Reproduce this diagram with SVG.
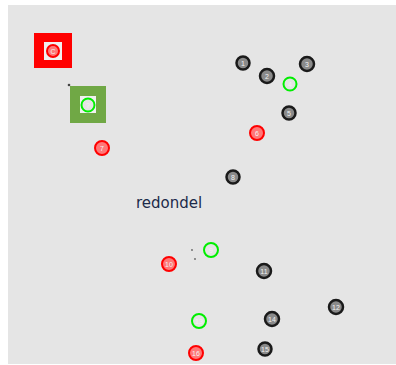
<svg xmlns="http://www.w3.org/2000/svg" width="396" height="365" viewBox="0 0 396 365">
<style>
.k{fill:#8a8a8a;stroke:#1a1a1a;stroke-width:2.5}
.r{fill:#f77;stroke:#ff0000;stroke-width:2}
.g{fill:#e4e4e4;stroke:#00ee00;stroke-width:2}
.n{font-family:"Liberation Sans",Arial,sans-serif;font-size:7px;fill:#f2f2f2;text-anchor:middle}
.lbl{font-family:"DejaVu Sans",Verdana,sans-serif;font-size:15px;fill:#1c2a4a}
</style>
<rect x="0" y="0" width="396" height="365" fill="#ffffff"/>
<rect x="8" y="5" width="388" height="359" fill="#e5e5e5"/>
<g id="node-c">
<rect x="34" y="33" width="38" height="35" fill="#ff0000"/>
<rect x="44" y="42" width="18" height="18" fill="#f0f0f0"/>
<circle cx="53" cy="51" r="6" class="r"/>
<text x="53" y="54" class="n">C</text>
</g>
<g id="node-q">
<rect x="70" y="86" width="36" height="37" fill="#70a845"/>
<rect x="80" y="96" width="16" height="17" fill="#f0f0f0"/>
<circle cx="88" cy="105" r="6.5" class="g"/>
<text x="88" y="108" class="n" fill="#999">?</text>
</g>
<g id="connectors">
<circle cx="69" cy="85" r="1.3" fill="#444"/>
<circle cx="192" cy="250" r="0.9" fill="#666"/>
<circle cx="195" cy="259" r="0.9" fill="#666"/>
</g>
<g id="n1"><circle cx="243" cy="63" r="6.5" class="k"/><text x="243" y="66" class="n">1</text></g>
<g id="n2"><circle cx="267" cy="76" r="7" class="k"/><text x="267" y="79" class="n">2</text></g>
<g id="n3"><circle cx="307" cy="64" r="7" class="k"/><text x="307" y="67" class="n">3</text></g>
<g id="n4"><circle cx="290" cy="84" r="6.5" class="g"/><text x="290" y="87" class="n" fill="#999">4</text></g>
<g id="n5"><circle cx="289" cy="113" r="6.5" class="k"/><text x="289" y="116" class="n">5</text></g>
<g id="n6"><circle cx="257" cy="133" r="7" class="r"/><text x="257" y="136" class="n">6</text></g>
<g id="n7"><circle cx="102" cy="148" r="7" class="r"/><text x="102" y="151" class="n">7</text></g>
<g id="n8"><circle cx="233" cy="177" r="6.5" class="k"/><text x="233" y="180" class="n">8</text></g>
<g id="n9"><circle cx="211" cy="250" r="7" class="g"/><text x="211" y="253" class="n" fill="#999">9</text></g>
<g id="n10"><circle cx="169" cy="264" r="7" class="r"/><text x="169" y="267" class="n">10</text></g>
<g id="n11"><circle cx="264" cy="271" r="7" class="k"/><text x="264" y="274" class="n">11</text></g>
<g id="n12"><circle cx="336" cy="307" r="7" class="k"/><text x="336" y="310" class="n">12</text></g>
<g id="n13"><circle cx="199" cy="321" r="7" class="g"/><text x="199" y="324" class="n" fill="#999">13</text></g>
<g id="n14"><circle cx="272" cy="319" r="7" class="k"/><text x="272" y="322" class="n">14</text></g>
<g id="n15"><circle cx="265" cy="349" r="6.5" class="k"/><text x="265" y="352" class="n">15</text></g>
<g id="n16"><circle cx="196" cy="353" r="7" class="r"/><text x="196" y="356" class="n">16</text></g>
<g id="label"><text x="136" y="208" class="lbl">redondel</text></g>
</svg>
